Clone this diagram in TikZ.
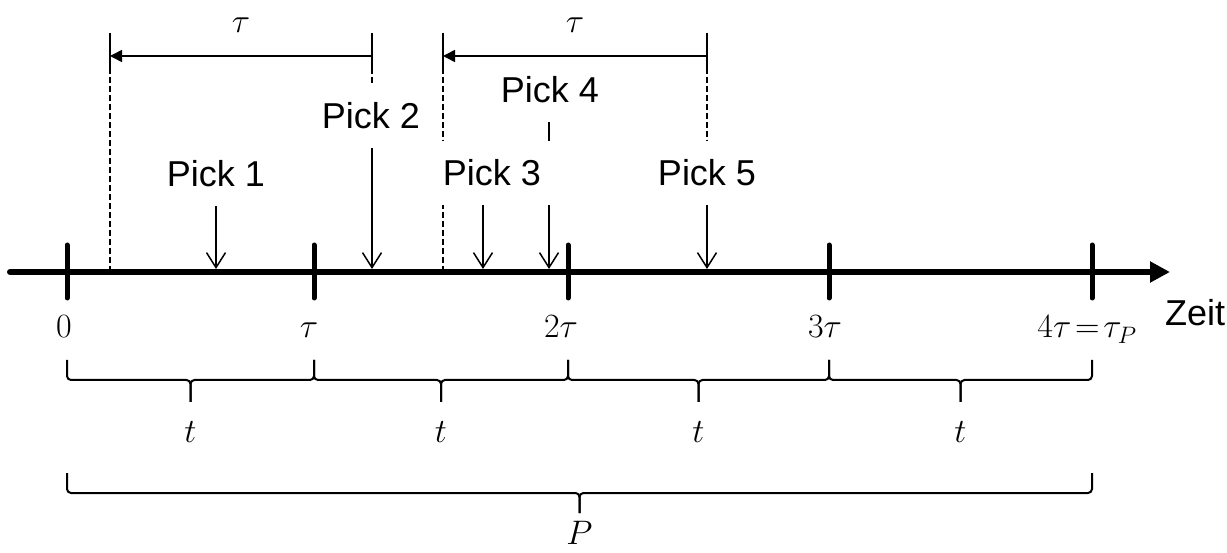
\RequirePackage{fix-cm}
\documentclass[tikz,border=0pt]{standalone}
\usepackage{fontspec}
\setsansfont{Liberation Sans}
\usetikzlibrary{arrows.meta,backgrounds}
\newcommand{\mybrace}[5]{%
  \draw[bracel] (#1,#3) |- ({(#1+#2)/2},#4) -- ({(#1+#2)/2},#5);
  \draw[bracel] (#2,#3) |- ({(#1+#2)/2},#4) -- ({(#1+#2)/2},#5);
}
\begin{document}
\begin{tikzpicture}[x=1pt,y=-1pt,
  lbl/.style={font=\sffamily\fontsize{36}{40}\selectfont, fill=white, inner xsep=12pt, inner ysep=0pt, minimum height=64pt},
  mlbl/.style={font=\fontsize{34}{38}\selectfont, inner sep=0pt},
  zeit/.style={font=\sffamily\fontsize{36}{40}\selectfont, inner sep=0pt},
  axisline/.style={line width=6pt, line cap=round, -{Triangle[length=20pt,width=20pt]}},
  tickline/.style={line width=5pt, line cap=round},
  pickarrow/.style={line width=1.5pt, -{Straight Barb[length=15pt,width=19pt]}},
  dimarrow/.style={line width=1.5pt, -{Triangle[length=12pt,width=12pt]}},
  bar/.style={line width=1.5pt},
  dashline/.style={line width=1.5pt, dash pattern=on 6pt off 3pt},
  bracel/.style={line width=2pt, rounded corners=4pt}
]
\useasboundingbox (0,0) rectangle (1227,553);

% axis and ticks
\coordinate (axL) at (10,272);
\coordinate (axR) at (1170,272);
\coordinate (t0) at (67,272);
\coordinate (t1) at (314,272);
\coordinate (t2) at (568,272);
\coordinate (t3) at (829,272);
\coordinate (t4) at (1092,272);

% pick labels (white boxes hide the lines beneath)
\node[lbl] (p1) at (216,174) {Pick 1};
\node[lbl] (p2) at (371,116) {Pick 2};
\node[lbl] (p3) at (492,173) {Pick 3};
\node[lbl] (p4) at (550,90) {Pick 4};
\node[lbl] (p5) at (707,173) {Pick 5};

% arrow targets on the axis
\coordinate (a1) at (216,269);
\coordinate (a2) at (372,269);
\coordinate (a3) at (483,269);
\coordinate (a4) at (549,269);
\coordinate (a5) at (707,269);

% dimension bars
\coordinate (b1t) at (110,33); \coordinate (b1m) at (110,68); \coordinate (b1b) at (110,270);
\coordinate (b2t) at (372,33); \coordinate (b2m) at (372,68);
\coordinate (b3t) at (443,33); \coordinate (b3m) at (443,68); \coordinate (b3b) at (443,270);
\coordinate (b4t) at (707,33); \coordinate (b4m) at (707,68);

\begin{pgfonlayer}{background}
  \draw[bar] (b1t) -- (b1m);
  \draw[dashline] (b1m) -- (b1b);
  \draw[bar] (b2t) -- (b2m);
  \draw[dashline] (b2m) -- (b2m |- p2.north);
  \draw[bar] (b3t) -- (b3m);
  \draw[dashline] (b3m) -- (b3b);
  \draw[bar] (b4t) -- (b4m);
  \draw[dashline] (b4m) -- (b4m |- p5.north);
  \draw[dimarrow] (372,56) -- (110,56);
  \draw[dimarrow] (707,56) -- (443,56);

  \draw[pickarrow] (a1 |- p1.south) -- (a1);
  \draw[pickarrow] (a2 |- p2.south) -- (a2);
  \draw[pickarrow] (a3 |- p3.south) -- (a3);
  \draw[pickarrow] (a4 |- p4.south) -- (a4);
  \draw[pickarrow] (a5 |- p5.south) -- (a5);
\end{pgfonlayer}

\node[mlbl] (tau1) at (241,25) {$\tau$};
\node[mlbl] (tau2) at (575,25) {$\tau$};

\draw[axisline] (axL) -- (axR);
\foreach \t in {t0,t1,t2,t3,t4}
  \draw[tickline] ([yshift=-26pt]\t) -- ([yshift=27pt]\t);

% tick labels
\node[mlbl, anchor=base] (l0) at (64,338) {$0$};
\node[mlbl, anchor=base] (l1) at (309,338) {$\tau$};
\node[mlbl, anchor=base] (l2) at (561,338) {$2\tau$};
\node[mlbl, anchor=base] (l3) at (825,338) {$3\tau$};
\node[mlbl, anchor=base] (l4) at (1087,338) {$4\tau\!=\!\tau_P$};
\node[zeit, anchor=west] (zeit) at (1165,313) {Zeit};

% braces
\mybrace{67}{314}{360}{380}{402}
\mybrace{314}{568}{360}{380}{402}
\mybrace{568}{829}{360}{380}{402}
\mybrace{829}{1092}{360}{380}{402}
\mybrace{67}{1092}{473}{493}{513}

\node[mlbl] (tt1) at (190.5,432) {$t$};
\node[mlbl] (tt2) at (441,432) {$t$};
\node[mlbl] (tt3) at (698.5,432) {$t$};
\node[mlbl] (tt4) at (960.5,432) {$t$};
\node[mlbl, anchor=base] (pp) at (579.5,544) {$P$};
\end{tikzpicture}
\end{document}
